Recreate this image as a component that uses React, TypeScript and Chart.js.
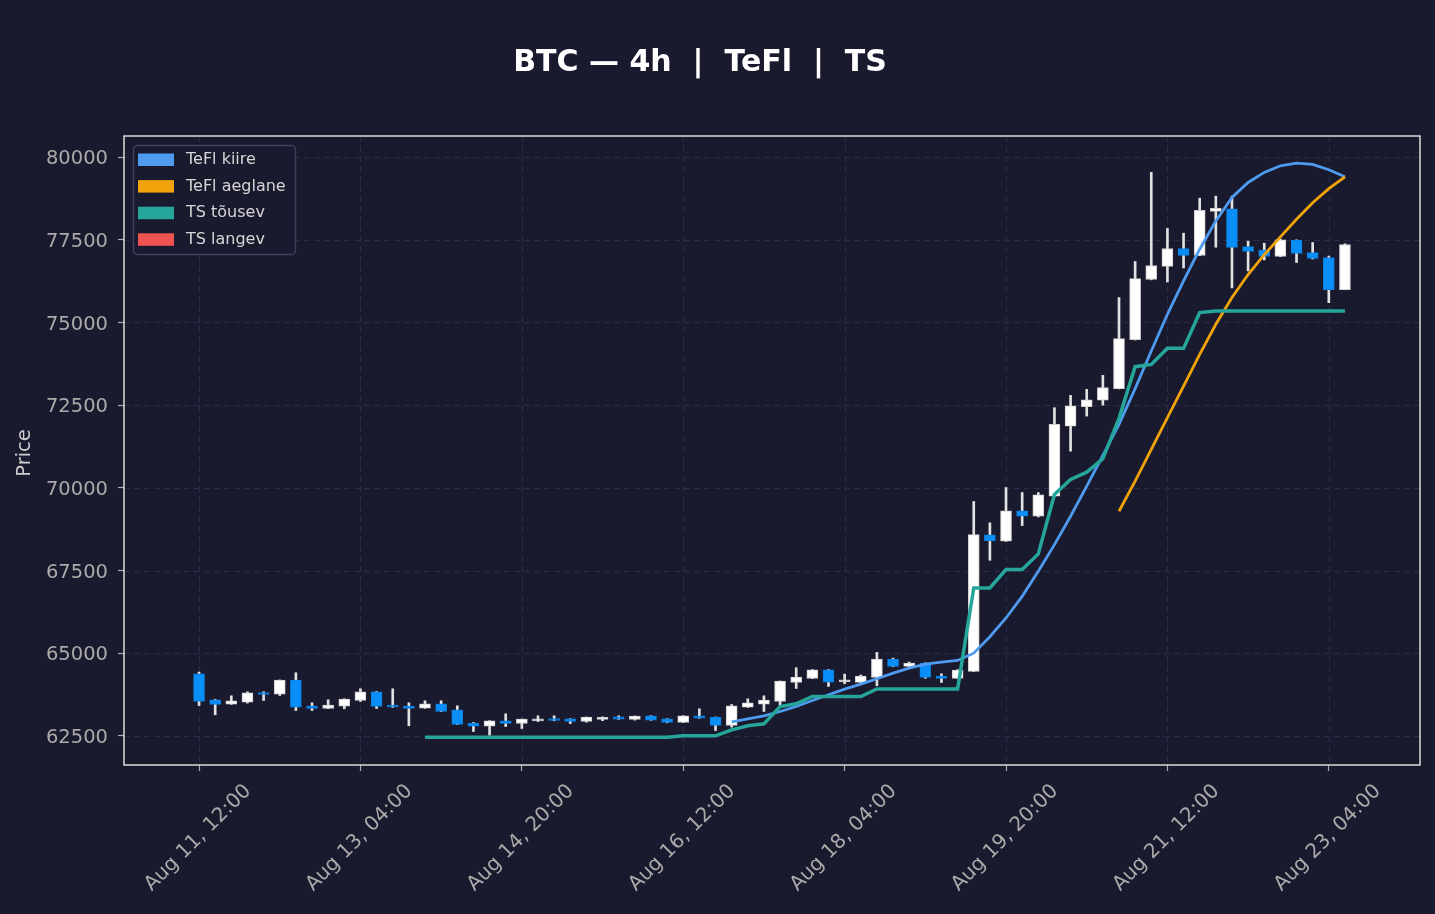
import { useEffect, useRef } from "react"
import { Chart, registerables, type ChartConfiguration, type Plugin } from "chart.js"

Chart.register(...registerables)

// 4h candles, index 0 = Aug 11 12:00
const opens = [
  64377, 63590, 63460, 63520, 63811, 63763, 64187, 63399, 63327, 63399,
  63569, 63832, 63430, 63399, 63339, 63469, 63287, 62884, 62794, 62954,
  62872, 62954, 63024, 63014, 62933, 62995, 63075, 62994, 63106, 63014,
  62903, 63106, 63066, 62812, 63369, 63460, 63539, 64114, 64235, 64499,
  64136, 64114, 64265, 64822, 64599, 64701, 64308, 64235, 64447, 68576,
  68385, 69304, 69141, 69746, 71866, 72453, 72654, 73000, 74482, 76299,
  76693, 77238, 77026, 78359, 78438, 77298, 77187, 76995, 77489, 77116,
  76965, 75996,
]
const closes = [
  63538, 63448, 63560, 63802, 63751, 64187, 63369, 63327, 63430, 63611,
  63832, 63387, 63369, 63327, 63469, 63236, 62842, 62794, 62954, 62874,
  63005, 63014, 62963, 62933, 63066, 63060, 63005, 63096, 62975, 62903,
  63106, 63036, 62812, 63408, 63499, 63581, 64156, 64277, 64499, 64126,
  64196, 64308, 64822, 64599, 64701, 64265, 64235, 64489, 68586, 68395,
  69304, 69141, 69788, 71917, 72483, 72665, 73029, 74512, 76329, 76723,
  77238, 77026, 78389, 78450, 77268, 77147, 76995, 77499, 77086, 76935,
  75996, 77358,
]
const highs = [
  64429, 63600, 63711, 63832, 63832, 64190, 64408, 63499, 63590, 63620,
  63923, 63840, 63923, 63499, 63560, 63560, 63408, 62903, 62960, 63166,
  63010, 63106, 63106, 63020, 63070, 63075, 63106, 63100, 63110, 63020,
  63110, 63318, 63070, 63448, 63620, 63711, 64160, 64559, 64505, 64505,
  64368, 64340, 65022, 64850, 64730, 64705, 64377, 64500, 69586, 68941,
  70009, 69858, 69858, 72423, 72795, 72977, 73401, 75754, 76844, 79539,
  77843, 77701, 78760, 78821, 78821, 77459, 77398, 77520, 77500, 77419,
  77010, 77380,
]
const lows = [
  63417, 63136, 63450, 63490, 63569, 63720, 63266, 63266, 63320, 63318,
  63539, 63327, 63360, 62803, 63330, 63230, 62840, 62630, 62521, 62782,
  62721, 62933, 62955, 62872, 62915, 62960, 63000, 62975, 62970, 62895,
  62900, 63030, 62660, 62763, 63360, 63236, 63408, 63932, 64230, 63993,
  64075, 64110, 64014, 64590, 64595, 64240, 64114, 64230, 64440, 67808,
  68380, 68859, 69120, 69740, 71109, 72169, 72500, 72990, 74470, 76290,
  76226, 76650, 77020, 77277, 76045, 76559, 76892, 76990, 76814, 76920,
  75600, 75990,
]

// indicator lines (first value sits on the given candle index)
const teflFastStart = 33
const teflFast = [
  62924, 63010, 63106, 63236, 63387, 63569, 63742, 63914, 64065, 64226,
  64398, 64550, 64671, 64732, 64780, 65000, 65498, 66064, 66718, 67475,
  68283, 69140, 70049, 70978, 71920, 73000, 74137, 75248, 76256, 77216,
  78073, 78780, 79235, 79539, 79738, 79820, 79779, 79618, 79405,
]
const teflSlowStart = 57
const teflSlow = [
  69292, 70200, 71160, 72120, 73077, 74036, 74945, 75754, 76450, 77050,
  77590, 78120, 78620, 79050, 79405,
]
const tsRisingStart = 14
const tsRising = [
  62460, 62460, 62460, 62460, 62460, 62460, 62460, 62460, 62460, 62460,
  62460, 62460, 62460, 62460, 62460, 62460, 62500, 62500, 62500, 62682,
  62803, 62863, 63387, 63469, 63690, 63690, 63690, 63690, 63920, 63920,
  63920, 63920, 63920, 63920, 66972, 66972, 67527, 67527, 68002, 69797,
  70252, 70473, 70878, 72100, 73664, 73733, 74218, 74218, 75300, 75350,
  75350, 75350, 75350, 75350, 75350, 75350, 75350, 75350,
]
const tsFallingStart = 0
const tsFalling: number[] = []

const xTickIdx = [0, 10, 20, 30, 40, 50, 60, 70]
const xTickLabels = [
  "Aug 11, 12:00", "Aug 13, 04:00", "Aug 14, 20:00", "Aug 16, 12:00",
  "Aug 18, 04:00", "Aug 19, 20:00", "Aug 21, 12:00", "Aug 23, 04:00",
]
const yTicks = [62500, 65000, 67500, 70000, 72500, 75000, 77500, 80000]

const legendLabels = ["TeFl kiire", "TeFl aeglane", "TS tõusev", "TS langev"]

const BG = "#1a1a2e"
const GRID = "#2c2c4a"
const TICK = "#aaaaaa"
const UP = "#ffffff"
const DOWN = "#0a8ef8"
const WICK = "#e2e2e2"
const C_FAST = "#4e9bf0"
const C_SLOW = "#f0a30a"
const C_RISE = "#26a69a"
const C_FALL = "#ef5350"
const FONT = '"DejaVu Sans", sans-serif'

const toPoints = (start: number, vals: number[]) => vals.map((y, k) => ({ x: start + k, y }))

const overlay: Plugin = {
  id: "overlay",
  beforeDatasetsDraw(chart) {
    const { ctx, chartArea: a, scales } = chart
    ctx.save()
    ctx.strokeStyle = GRID
    ctx.lineWidth = 1
    ctx.setLineDash([6, 4])
    xTickIdx.forEach((v) => {
      const x = Math.round(scales.x.getPixelForValue(v)) + 0.5
      ctx.beginPath()
      ctx.moveTo(x, a.top)
      ctx.lineTo(x, a.bottom)
      ctx.stroke()
    })
    yTicks.forEach((v) => {
      const y = Math.round(scales.y.getPixelForValue(v)) + 0.5
      ctx.beginPath()
      ctx.moveTo(a.left, y)
      ctx.lineTo(a.right, y)
      ctx.stroke()
    })
    ctx.restore()
  },
  afterDraw(chart) {
    const { ctx, chartArea: a, scales } = chart
    ctx.save()

    // frame
    ctx.strokeStyle = "#dcdcdc"
    ctx.lineWidth = 1.5
    ctx.strokeRect(a.left, a.top, a.right - a.left, a.bottom - a.top)

    // title
    ctx.fillStyle = "#ffffff"
    ctx.font = `bold 30px ${FONT}`
    ctx.textAlign = "center"
    ctx.textBaseline = "middle"
    ctx.fillText("BTC — 4h  |  TeFl  |  TS", 700, 63)

    // y axis title
    ctx.save()
    ctx.translate(25, 453)
    ctx.rotate(-Math.PI / 2)
    ctx.fillStyle = "#cccccc"
    ctx.font = `19.5px ${FONT}`
    ctx.fillText("Price", 0, 0)
    ctx.restore()

    // rotated x tick labels, centred under the tick
    ctx.fillStyle = TICK
    ctx.font = `20px ${FONT}`
    xTickIdx.forEach((v, i) => {
      const x = scales.x.getPixelForValue(v)
      ctx.save()
      ctx.translate(x - 1, a.bottom + 73)
      ctx.rotate(-Math.PI / 4)
      ctx.fillText(xTickLabels[i], 0, 0)
      ctx.restore()
    })

    // legend
    const colors = [C_FAST, C_SLOW, C_RISE, C_FALL]
    ctx.beginPath()
    ctx.roundRect(133.5, 145.5, 162, 109, 4)
    ctx.fillStyle = BG
    ctx.fill()
    ctx.strokeStyle = "#3e3e5e"
    ctx.lineWidth = 1.5
    ctx.stroke()
    ctx.font = `16px ${FONT}`
    ctx.textAlign = "left"
    legendLabels.forEach((label, i) => {
      const y = 159.5 + i * 26.6
      ctx.fillStyle = colors[i]
      ctx.fillRect(138, y - 6, 36, 12.5)
      ctx.fillStyle = "#d6d6d6"
      ctx.fillText(label, 186, y + 0.5)
    })

    ctx.restore()
  },
}

export default function App() {
  const canvasRef = useRef<HTMLCanvasElement>(null)

  useEffect(() => {
    document.body.style.margin = "0"
    document.body.style.background = BG
    const ctx = canvasRef.current?.getContext("2d")
    if (!ctx) return

    const up = opens.map((o, i) => closes[i] >= o)

    const config: ChartConfiguration = {
      type: "bar",
      data: {
        datasets: [
          {
            type: "line",
            label: "TS tõusev",
            data: toPoints(tsRisingStart, tsRising),
            borderColor: C_RISE,
            borderWidth: 3.5,
            pointRadius: 0,
            tension: 0,
            order: -3,
          },
          {
            type: "line",
            label: "TS langev",
            data: toPoints(tsFallingStart, tsFalling),
            borderColor: C_FALL,
            borderWidth: 3.5,
            pointRadius: 0,
            order: -3,
          },
          {
            type: "line",
            label: "TeFl aeglane",
            data: toPoints(teflSlowStart, teflSlow),
            borderColor: C_SLOW,
            borderWidth: 2.8,
            pointRadius: 0,
            tension: 0,
            order: -2,
          },
          {
            type: "line",
            label: "TeFl kiire",
            data: toPoints(teflFastStart, teflFast),
            borderColor: C_FAST,
            borderWidth: 2.8,
            pointRadius: 0,
            tension: 0,
            order: -1,
          },
          {
            type: "bar",
            label: "body",
            data: opens.map((o, i) => ({ x: i, y: [o, closes[i]] })) as any,
            backgroundColor: up.map((u) => (u ? UP : DOWN)),
            borderColor: up.map((u) => (u ? "#cfcfcf" : "#0a7fe0")),
            borderWidth: 1,
            borderSkipped: false,
            barThickness: 11,
            minBarLength: 2,
            grouped: false,
            order: 0,
          },
          {
            type: "bar",
            label: "wick",
            data: lows.map((l, i) => ({ x: i, y: [l, highs[i]] })) as any,
            backgroundColor: WICK,
            borderWidth: 0,
            barThickness: 2,
            grouped: false,
            order: 1,
          },
        ],
      },
      options: {
        animation: false,
        responsive: true,
        maintainAspectRatio: false,
        layout: { padding: { left: 0, right: 15, top: 136, bottom: 0 } },
        plugins: {
          legend: { display: false },
          title: { display: false },
          tooltip: { enabled: false },
        },
        scales: {
          x: {
            type: "linear",
            min: -4.65,
            max: 75.65,
            offset: false,
            afterBuildTicks: (s) => {
              s.ticks = xTickIdx.map((v) => ({ value: v }))
            },
            afterFit: (s) => {
              s.height = 149
            },
            ticks: { display: false },
            grid: {
              drawOnChartArea: false,
              drawTicks: true,
              tickLength: 6,
              tickColor: TICK,
              tickWidth: 1.2,
              offset: false,
            },
            border: { display: false },
          },
          y: {
            type: "linear",
            min: 61618,
            max: 80640,
            afterBuildTicks: (s) => {
              s.ticks = yTicks.map((v) => ({ value: v }))
            },
            afterFit: (s) => {
              s.width = 124
            },
            ticks: {
              color: TICK,
              padding: 10,
              labelOffset: 2,
              font: { family: "DejaVu Sans", size: 19.5 },
              callback: (v) => String(v),
            },
            grid: {
              drawOnChartArea: false,
              drawTicks: true,
              tickLength: 6,
              tickColor: TICK,
              tickWidth: 1.2,
            },
            border: { display: false },
          },
        },
      },
      plugins: [overlay],
    }

    const chart = new Chart(ctx, config)
    return () => chart.destroy()
  }, [])

  return (
    <div style={{ position: "relative", width: 1435, height: 914, background: BG }}>
      <canvas ref={canvasRef} />
    </div>
  )
}
